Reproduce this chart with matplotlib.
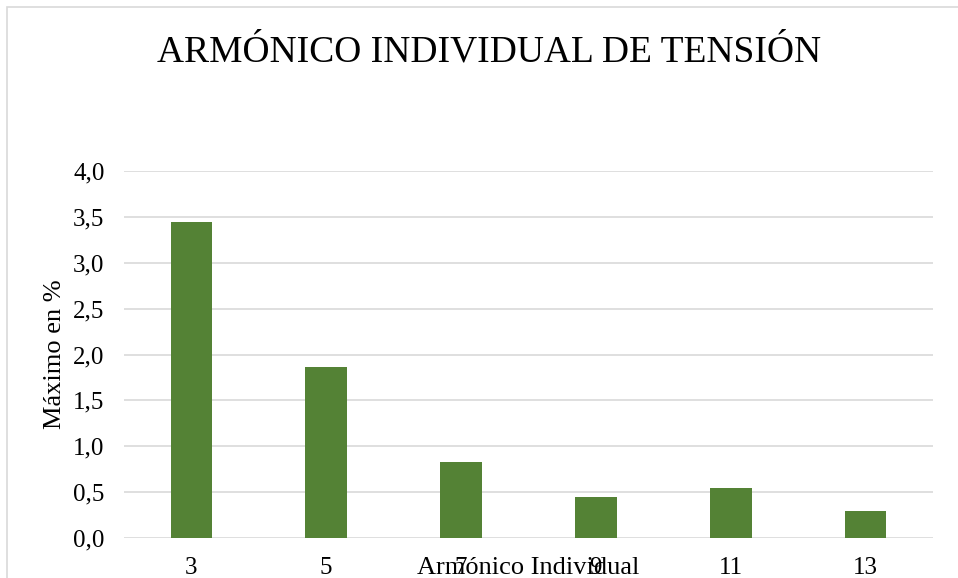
import matplotlib.pyplot as plt
from matplotlib.patches import Rectangle

harmonics = ["3", "5", "7", "9", "11", "13"]
max_pct = [3.44, 1.86, 0.83, 0.45, 0.54, 0.29]
yticks = [0.0, 0.5, 1.0, 1.5, 2.0, 2.5, 3.0, 3.5, 4.0]

plt.rcParams["font.family"] = ["Liberation Serif", "DejaVu Serif"]

W, H = 958, 578
fig = plt.figure(figsize=(W / 100, H / 100), dpi=100)

# chart frame (cut off on right/bottom like the original)
fig.patches.append(Rectangle((7 / W, -0.1), 1.2, 1 - 7 / H + 0.1, transform=fig.transFigure,
                             fill=False, edgecolor="#d9d9d9", linewidth=1.2))

ax = fig.add_axes([124 / W, 1 - 538 / H, (933 - 124) / W, (538 - 171) / H])
x = list(range(len(harmonics)))
ax.bar(x, max_pct, width=0.31, color="#548235", zorder=3)

ax.set_xlim(-0.5, len(harmonics) - 0.5)
ax.set_ylim(0, 4)
ax.set_yticks(yticks)
ax.set_yticklabels([f"{v:.1f}".replace(".", ",") for v in yticks], fontsize=18)
ax.set_xticks(x)
ax.set_xticklabels(harmonics, fontsize=18)
ax.tick_params(axis="y", length=0, pad=14)
ax.tick_params(axis="x", length=0, pad=14)

ax.grid(axis="y", color="#d9d9d9", linewidth=1.2, zorder=0)
for s in ax.spines.values():
    s.set_visible(False)

# the original Excel chart has the x title sitting on top of the tick labels
ax.set_ylabel("Máximo en %", fontsize=19, labelpad=5)
ax.set_xlabel("Armónico Individual", fontsize=19, labelpad=-16)

fig.text(489 / W, 1 - 62 / H, "ARMÓNICO INDIVIDUAL DE TENSIÓN", ha="center", va="baseline",
         fontsize=27)

fig.savefig("out.png", dpi=100)
